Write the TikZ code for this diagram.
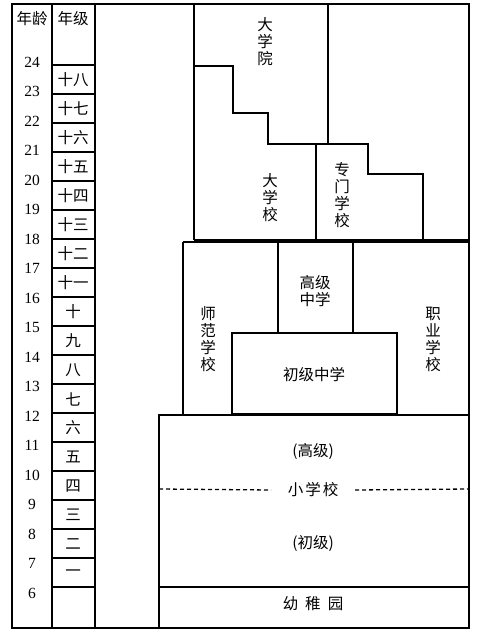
\documentclass[tikz,border=0pt]{standalone}
\usepackage{fontspec}
\setmainfont{Liberation Serif}
\newfontfamily\cjk{Noto Sans CJK SC}

\begin{document}
\begin{tikzpicture}[x=1pt,y=-1pt,line width=1.5pt,
  zh/.style={font=\cjk\fontsize{15.5}{17}\selectfont,inner sep=0pt,align=center},
  num/.style={font=\fontsize{15.5}{18}\selectfont,inner sep=0pt}]
\useasboundingbox (0,0) rectangle (489,631);

% Outer frame and left columns
\draw (12,4) rectangle (469,628);
\draw (52,4) -- (52,628); % age column
\draw (95,4) -- (95,628); % grade column

% Headers
\node[zh] (hage) at (32,19) {年龄};
\node[zh] (hgrade) at (73,19) {年级};

% Grade boxes
\foreach \g [count=\i from 0] in {十八,十七,十六,十五,十四,十三,十二,十一,十,九,八,七,六,五,四,三,二,一} {
  \draw (52,{65+29*\i}) -- (95,{65+29*\i});
  \node[zh] (g\i) at (73,{80+29*\i}) {\g};
}
\draw (52,587) -- (95,587);

% Ages
\foreach \a [count=\i from 0] in {24,23,...,6}
  \node[num] (a\a) at (32,{62+29.5*\i}) {\a};

% Universities
\draw (194,4) -- (194,240);
\draw (328,4) -- (328,144);
\draw (194,66) -- (233,66) -- (233,113) -- (268,113) -- (268,144) -- (368,144)
  -- (368,174) -- (423,174) -- (423,240);
\draw (316,144) -- (316,240);
\draw (194,240) -- (469,240);
\node[zh] (dxy) at (265,42) {大\\学\\院};
\node[zh] (dxx) at (270,198) {大\\学\\校};
\node[zh] (zmxx) at (342,195) {专\\门\\学\\校};

% Secondary schools
\draw (183,242) -- (469,242);
\draw (183,242) -- (183,414);
\draw (278,242) -- (278,333);
\draw (353,242) -- (353,333);
\draw (232,333) rectangle (397,414);
\node[zh] (gjzx) at (315,291) {高级\\中学};
\node[zh] (sfxx) at (208,339) {师\\范\\学\\校};
\node[zh] (zyxx) at (433,339) {职\\业\\学\\校};
\node[zh] (cjzx) at (314,375) {初级中学};

% Primary school and kindergarten
\draw (159,415) rectangle (469,628);
\draw (159,587) -- (469,587);
\node[zh] (gj) at (313,451) {(高级)};
\node[zh,inner xsep=16pt] (xxx) at (313,490) {小\hspace{2pt}学\hspace{2pt}校};
\node[zh] (cj) at (313,543) {(初级)};
\node[zh] (yey) at (313,604) {幼\hspace{7pt}稚\hspace{7pt}园};
\draw[line width=1.3pt,dash pattern=on 4pt off 3pt] (159,489) -- (xxx.west);
\draw[line width=1.3pt,dash pattern=on 4pt off 3pt] (xxx.east) -- (469,489);
\end{tikzpicture}
\end{document}
